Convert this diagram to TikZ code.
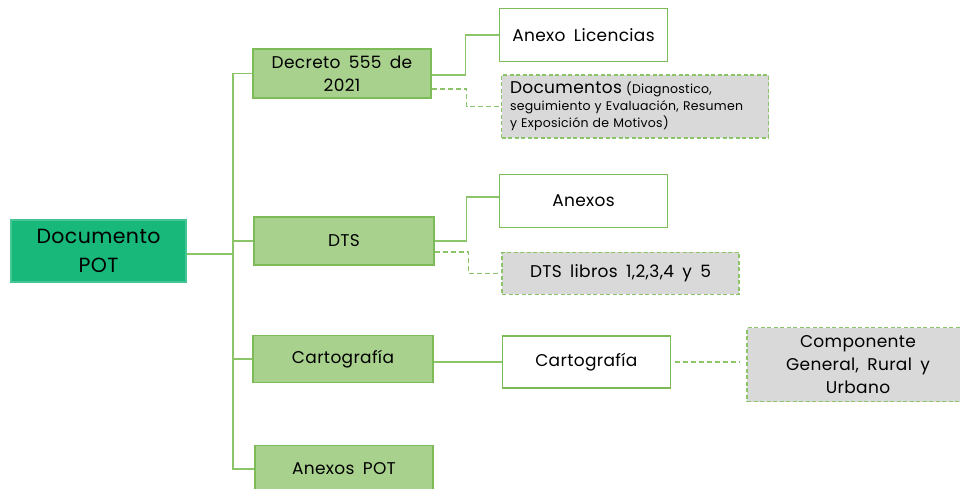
\documentclass[tikz,border=0pt]{standalone}
\usepackage{fontspec}
\setmainfont{Poppins}[WordSpace=1.7, LetterSpace=2]
\usetikzlibrary{positioning,calc}

\definecolor{potgreen}{RGB}{24,183,122}
\definecolor{lightgreen}{RGB}{169,209,142}
\definecolor{edgegreen}{RGB}{125,187,88}
\definecolor{linkgreen}{RGB}{140,196,106}
\definecolor{boxgray}{RGB}{217,217,217}

\begin{document}
\begin{tikzpicture}[
    x=1pt, y=-1pt,
    box/.style={rectangle, draw=edgegreen, line width=1.3pt, inner sep=2pt, align=center,
                font=\fontsize{17}{23}\selectfont, text=black},
    rootbox/.style={box, fill=potgreen, draw=potgreen!80, font=\fontsize{20.5}{29}\selectfont},
    branch/.style={box, fill=lightgreen},
    leaf/.style={box, fill=white},
    note/.style={box, fill=boxgray, draw=linkgreen, dashed, dash pattern=on 4pt off 2.5pt},
    link/.style={draw=linkgreen, line width=1.2pt},
    dlink/.style={link, dash pattern=on 5pt off 3pt}
]
    \useasboundingbox (0,0) rectangle (960,489);

    % --- ROOT ---
    \node[rootbox, minimum width=175pt, minimum height=62pt] (pot) at (98.5,251) {Documento\\POT};
    \coordinate (trunk) at (233,254);

    % --- LEVEL 1: green boxes on the trunk ---
    \node[branch, minimum width=178pt, minimum height=49pt] (decreto) at (342,73.5) {Decreto 555 de\\2021};
    \node[branch, minimum width=180pt, minimum height=48pt] (dts) at (344,241) {DTS};
    \node[branch, minimum width=180pt, minimum height=47pt] (carto) at (343,359) {Cartografía};
    \node[branch, minimum width=178pt, minimum height=47pt] (anexospot) at (344,469) {Anexos POT};

    % --- LEVEL 2: white and grey boxes ---
    \node[leaf, minimum width=168pt, minimum height=53pt] (licencias) at (583.5,35) {Anexo Licencias};
    \node[note, minimum width=267pt, minimum height=63pt, text width=250pt, align=left,
          font=\fontsize{12.5}{17}\selectfont] (documentos) at (635,106.5)
        {{\fontsize{17}{17}\selectfont Documentos} (Diagnostico,\\seguimiento y Evaluación, Resumen\\y Exposición de Motivos)};
    \node[leaf, minimum width=168pt, minimum height=53pt] (anexos) at (583.5,201) {Anexos};
    \node[note, minimum width=237pt, minimum height=42pt] (libros) at (620.5,273.3) {DTS libros 1,2,3,4 y 5};
    \node[leaf, minimum width=168pt, minimum height=52pt] (carto2) at (586.3,362) {Cartografía};
    \node[note, minimum width=222pt, minimum height=74pt] (componente) at (858,364.7) {Componente\\General, Rural y\\Urbano};

    % --- TRUNK ---
    \draw[link] (pot.east |- trunk) -- (trunk);
    \draw[link] (decreto.west) -- (decreto.west -| trunk) -- (anexospot.west -| trunk) -- (anexospot.west);
    \draw[link] (dts.west) -- (dts.west -| trunk);
    \draw[link] (carto.west) -- (carto.west -| trunk);

    % --- CONNECTIONS TO LEVEL 2 ---
    \draw[link] ([yshift=-1.5pt]decreto.east) -- ++(34,0) |- (licencias.west);
    \draw[dlink] ([yshift=-15.5pt]decreto.east) -- ++(35,0) |- (documentos.west);
    \draw[link] (dts.east) -- ++(32,0) |- ([yshift=4pt]anexos.west);
    \draw[dlink] ([yshift=-11pt]dts.east) -- ++(34,0) |- (libros.west);
    \draw[link] (carto2.west -| carto.east) -- (carto2.west);
    \draw[dlink, shorten <=4pt, shorten >=7pt] (carto2.east) -- (carto2.east -| componente.west);

\end{tikzpicture}
\end{document}
